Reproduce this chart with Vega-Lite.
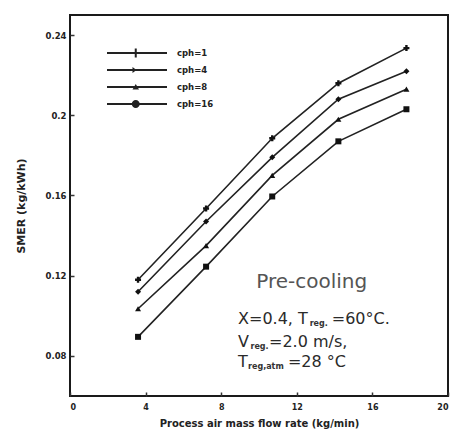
{
  "$schema": "https://vega.github.io/schema/vega-lite/v6.json",
  "width": 378,
  "height": 381,
  "autosize": {"type": "none"},
  "padding": {"left": 70, "top": 15, "right": 6, "bottom": 35},
  "background": "white",
  "config": {
    "view": {"stroke": "#1a1a1a", "strokeWidth": 2},
    "font": "DejaVu Sans"
  },
  "datasets": {
    "smer": [
      {"series": "cph=1", "flow": 3.6, "smer": 0.118},
      {"series": "cph=1", "flow": 7.2, "smer": 0.1535},
      {"series": "cph=1", "flow": 10.7, "smer": 0.1885},
      {"series": "cph=1", "flow": 14.2, "smer": 0.216},
      {"series": "cph=1", "flow": 17.8, "smer": 0.2335},
      {"series": "cph=4", "flow": 3.6, "smer": 0.112},
      {"series": "cph=4", "flow": 7.2, "smer": 0.147},
      {"series": "cph=4", "flow": 10.7, "smer": 0.179},
      {"series": "cph=4", "flow": 14.2, "smer": 0.208},
      {"series": "cph=4", "flow": 17.8, "smer": 0.222},
      {"series": "cph=8", "flow": 3.6, "smer": 0.1035},
      {"series": "cph=8", "flow": 7.2, "smer": 0.135},
      {"series": "cph=8", "flow": 10.7, "smer": 0.17},
      {"series": "cph=8", "flow": 14.2, "smer": 0.198},
      {"series": "cph=8", "flow": 17.8, "smer": 0.213},
      {"series": "cph=16", "flow": 3.6, "smer": 0.0895},
      {"series": "cph=16", "flow": 7.2, "smer": 0.1245},
      {"series": "cph=16", "flow": 10.7, "smer": 0.1595},
      {"series": "cph=16", "flow": 14.2, "smer": 0.187},
      {"series": "cph=16", "flow": 17.8, "smer": 0.203}
    ],
    "notes": [
      {"role": "head", "t": "Pre-cooling", "flow": 12.79, "smer": 0.117},
      {"role": "main", "t": "X=0.4, T", "flow": 8.89, "smer": 0.0985},
      {"role": "sub", "t": "reg.", "flow": 12.68, "smer": 0.096},
      {"role": "main", "t": "=60°C.", "flow": 13.85, "smer": 0.0985},
      {"role": "main", "t": "V", "flow": 8.89, "smer": 0.087},
      {"role": "sub", "t": "reg.", "flow": 9.55, "smer": 0.0845},
      {"role": "main", "t": "=2.0 m/s,", "flow": 10.53, "smer": 0.087},
      {"role": "main", "t": "T", "flow": 8.89, "smer": 0.077},
      {"role": "sub", "t": "reg,atm", "flow": 9.42, "smer": 0.0745},
      {"role": "main", "t": "=28 °C", "flow": 11.53, "smer": 0.077}
    ]
  },
  "layer": [
    {
      "data": {"name": "smer"},
      "mark": {"type": "line", "color": "#222", "strokeWidth": 1.6},
      "encoding": {
        "x": {
          "field": "flow",
          "type": "quantitative",
          "scale": {"domain": [0, 20], "nice": false, "zero": false},
          "axis": {
            "title": "Process air mass flow rate (kg/min)",
            "values": [0, 2, 4, 6, 8, 10, 12, 14, 16, 18, 20],
            "labelExpr": "datum.value % 4 === 0 ? datum.label : ''",
            "grid": false,
            "domain": false,
            "tickSize": -4,
            "tickColor": "#333",
            "tickWidth": 1.5,
            "labelPadding": 11,
            "labelFont": "DejaVu Sans",
            "labelFontWeight": "bold",
            "labelFontSize": 8,
            "labelColor": "#222",
            "titleFont": "DejaVu Sans",
            "titleFontWeight": "bold",
            "titleFontSize": 10,
            "titleColor": "#222",
            "titlePadding": 7
          }
        },
        "y": {
          "field": "smer",
          "type": "quantitative",
          "scale": {"domain": [0.06, 0.25], "nice": false, "zero": false},
          "axis": {
            "title": "SMER (kg/kWh)",
            "values": [0.08, 0.12, 0.16, 0.2, 0.24],
            "format": "~g",
            "grid": false,
            "domain": false,
            "tickSize": -4,
            "tickColor": "#333",
            "tickWidth": 1.5,
            "labelPadding": 8,
            "labelFont": "DejaVu Sans",
            "labelFontWeight": "bold",
            "labelFontSize": 8.5,
            "labelColor": "#222",
            "titleFont": "DejaVu Sans",
            "titleFontWeight": "bold",
            "titleFontSize": 11,
            "titleColor": "#222",
            "titlePadding": 19
          }
        },
        "detail": {"field": "series"}
      }
    },
    {
      "data": {"name": "smer"},
      "mark": {"type": "point", "filled": true, "color": "#111", "opacity": 1},
      "encoding": {
        "x": {"field": "flow", "type": "quantitative"},
        "y": {"field": "smer", "type": "quantitative"},
        "shape": {
          "field": "series",
          "type": "nominal",
          "scale": {
            "domain": ["cph=1", "cph=4", "cph=8", "cph=16"],
            "range": ["cross", "diamond", "triangle-up", "square"]
          },
          "legend": null
        },
        "size": {
          "field": "series",
          "type": "nominal",
          "scale": {
            "domain": ["cph=1", "cph=4", "cph=8", "cph=16"],
            "range": [36, 36, 36, 60]
          },
          "legend": null
        }
      }
    },
    {
      "data": {"name": "smer"},
      "mark": {"type": "point", "filled": true, "color": "#222", "opacity": 0},
      "encoding": {
        "x": {"field": "flow", "type": "quantitative"},
        "y": {"field": "smer", "type": "quantitative"},
        "shape": {
          "field": "series",
          "type": "nominal",
          "scale": {
            "domain": ["cph=1", "cph=4", "cph=8", "cph=16"],
            "range": [
              "M-6,-0.18H6V0.18H-6ZM-0.45,-0.9H-0.05V0.9H-0.45Z",
              "M-6,-0.18H6V0.18H-6ZM-0.9,-0.6L-0.1,0L-0.9,0.6Z",
              "M-6,-0.18H6V0.18H-6ZM-0.9,0.5L-0.25,-0.6L0.4,0.5Z",
              "M-6,-0.18H6V0.18H-6ZM-1.05,0A0.8,0.8 0 1,1 0.55,0A0.8,0.8 0 1,1 -1.05,0Z"
            ]
          },
          "legend": {
            "title": null,
            "orient": "none",
            "legendX": 62,
            "legendY": 33,
            "padding": 0,
            "symbolSize": 100,
            "symbolOpacity": 1,
            "symbolFillColor": "#222",
            "symbolStrokeWidth": 0,
            "labelOffset": 35,
            "labelFont": "DejaVu Sans",
            "labelFontWeight": "bold",
            "labelFontSize": 8.5,
            "labelColor": "#222",
            "rowPadding": 7
          }
        }
      }
    },
    {
      "data": {"name": "notes"},
      "transform": [{"filter": "datum.role === 'head'"}],
      "mark": {"type": "text", "font": "DejaVu Sans", "fontSize": 20, "color": "#555", "align": "center", "baseline": "middle"},
      "encoding": {
        "x": {"field": "flow", "type": "quantitative"},
        "y": {"field": "smer", "type": "quantitative"},
        "text": {"field": "t"}
      }
    },
    {
      "data": {"name": "notes"},
      "transform": [{"filter": "datum.role === 'main'"}],
      "mark": {"type": "text", "font": "DejaVu Sans", "fontSize": 16, "color": "#2a2a2a", "align": "left", "baseline": "middle"},
      "encoding": {
        "x": {"field": "flow", "type": "quantitative"},
        "y": {"field": "smer", "type": "quantitative"},
        "text": {"field": "t"}
      }
    },
    {
      "data": {"name": "notes"},
      "transform": [{"filter": "datum.role === 'sub'"}],
      "mark": {"type": "text", "font": "DejaVu Sans", "fontSize": 8, "fontWeight": "bold", "color": "#333", "align": "left", "baseline": "middle"},
      "encoding": {
        "x": {"field": "flow", "type": "quantitative"},
        "y": {"field": "smer", "type": "quantitative"},
        "text": {"field": "t"}
      }
    }
  ],
  "resolve": {"scale": {"shape": "independent", "size": "independent"}}
}
